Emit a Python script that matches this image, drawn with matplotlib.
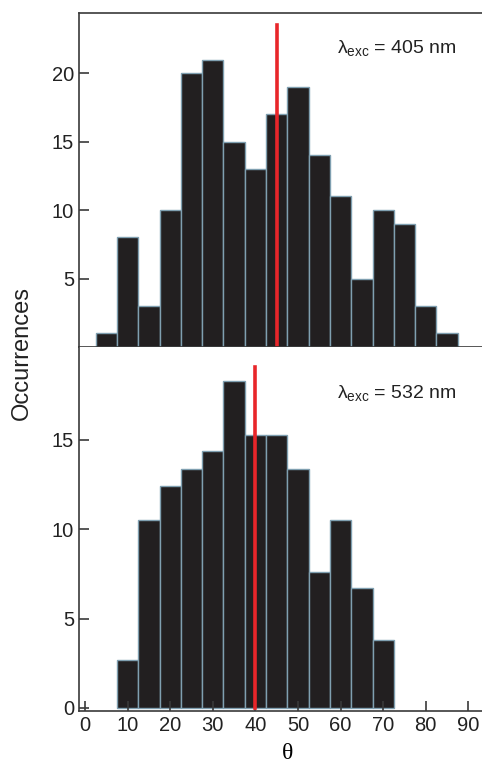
import numpy as np
import matplotlib
matplotlib.use('Agg')
import matplotlib.pyplot as plt

plt.rcParams['font.family'] = ['Liberation Sans', 'DejaVu Sans']
plt.rcParams['mathtext.fontset'] = 'custom'
plt.rcParams['mathtext.rm'] = 'Liberation Sans'
plt.rcParams['mathtext.it'] = 'Liberation Sans'

# bin centres (degrees) and counts
theta_405 = [5, 10, 15, 20, 25, 30, 35, 40, 45, 50, 55, 60, 65, 70, 75, 80, 85]
counts_405 = [1, 8, 3, 10, 20, 21, 15, 13, 17, 19, 14, 11, 5, 10, 9, 3, 1]
theta_532 = [10, 15, 20, 25, 30, 35, 40, 45, 50, 55, 60, 65, 70]
counts_532 = [2.7, 10.5, 12.4, 13.4, 14.4, 18.3, 15.3, 15.3, 13.4, 7.6, 10.5, 6.7, 3.8]
mean_405 = 45
mean_532 = 40
xticks = [0, 10, 20, 30, 40, 50, 60, 70, 80, 90]

bar_fc = '#221f20'
bar_ec = '#7f9fb0'
red = '#e8262a'
spine_c = '#3a3a3a'

fig = plt.figure(figsize=(4.82, 7.69), dpi=100)
left, right = 79 / 482, 496.5 / 482
ax1 = fig.add_axes([left, 1 - 347 / 769, right - left, (347 - 13) / 769])
ax2 = fig.add_axes([left, 1 - 711 / 769, right - left, (711 - 347) / 769])

for ax in (ax1, ax2):
    ax.set_xlim(-1.4, 96.6)
    for s in ax.spines.values():
        s.set_color(spine_c)
        s.set_linewidth(1.2)
    ax.spines['right'].set_visible(False)
    ax.tick_params(direction='in', length=7, width=1.2, color=spine_c,
                   labelsize=14.5, labelcolor='#222222')

ax1.bar(theta_405, counts_405, width=5, color=bar_fc, edgecolor=bar_ec, linewidth=1.0)
ax1.plot([mean_405, mean_405], [0, 23.5], color=red, lw=2.6)
ax1.set_ylim(0, 24.4)
ax1.set_yticks([5, 10, 15, 20])
ax1.set_xticks([])
ax1.text(0.905, 0.895, r'$\lambda_{\rm exc}$ = 405 nm', transform=ax1.transAxes,
         ha='right', va='center', fontsize=14, color='#222222')

ax2.bar(theta_532, counts_532, width=5, color=bar_fc, edgecolor=bar_ec, linewidth=1.0)
ax2.plot([mean_532, mean_532], [0, 19.1], color=red, lw=2.6)
ax2.set_ylim(-0.17, 20.2)
ax2.set_yticks([0, 5, 10, 15])
ax2.set_xticks(xticks)
ax2.spines['top'].set_visible(False)
ax2.text(0.905, 0.874, r'$\lambda_{\rm exc}$ = 532 nm', transform=ax2.transAxes,
         ha='right', va='center', fontsize=14, color='#222222')
ax2.set_xlabel('θ', fontsize=17, family='Liberation Serif', labelpad=6)

fig.text(22 / 482, 1 - 353 / 769, 'Occurrences', rotation=90, ha='center', va='center',
         fontsize=17, color='#222222')

fig.savefig('out.png', dpi=100)
